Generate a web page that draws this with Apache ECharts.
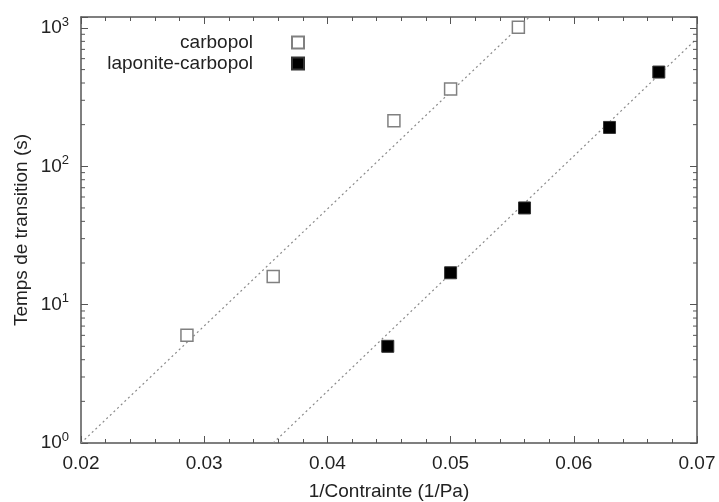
<!DOCTYPE html>
<html>
<head>
<meta charset="utf-8">
<script src="https://cdn.jsdelivr.net/npm/echarts@6/dist/echarts.min.js"></script>
<style>
  html, body { margin: 0; padding: 0; background: #fff; }
  #chart { width: 719px; height: 502px; }
</style>
</head>
<body>
<div id="chart"></div>
<script>
// données
const carbopolX = [0.0286, 0.0356, 0.0454, 0.0500, 0.0555]
const carbopolY = [6.0, 16, 213, 362, 1010]
const laponiteX = [0.0449, 0.0500, 0.0560, 0.0629, 0.0669]
const laponiteY = [5.0, 17, 50, 191, 480]

// droites d'ajustement (extrémités)
const fitCarbopolX = [0.0200, 0.0564]
const fitCarbopolY = [1.0, 1200]
const fitLaponiteX = [0.0356, 0.0700]
const fitLaponiteY = [1.0, 840]

const xTicks = [0.02, 0.03, 0.04, 0.05, 0.06, 0.07]
const yDecades = [1, 10, 100, 1000]

const X_MIN = 0.02, X_MAX = 0.07
const Y_MIN = 1, Y_MAX = 1200

const zip = (xs, ys) => xs.map((x, i) => [x, ys[i]])

// graduations secondaires de l'axe log (2..9 x 10^k)
const minorY = []
yDecades.forEach(d => {
  for (let m = 2; m <= 9; m++) {
    if (d * m < Y_MAX) minorY.push([X_MIN, d * m])
  }
})

const axisColor = '#555'
const textColor = '#222'
const font = 'Liberation Sans, Arial, sans-serif'
const fs = 19

const chart = echarts.init(document.getElementById('chart'))

const openStyle = { color: '#fff', borderColor: '#808080', borderWidth: 1.5, opacity: 1 }
const fullStyle = { color: '#000', borderColor: '#333', borderWidth: 1, opacity: 1 }

chart.setOption({
  animation: false,
  textStyle: { fontFamily: font },
  grid: { left: 81, right: 22, top: 17, bottom: 59, outerBoundsMode: 'none', containLabel: false },
  legend: [
    {
      data: ['carbopol'],
      right: 409,
      top: 28,
      align: 'right',
      itemWidth: 12,
      itemHeight: 12,
      textStyle: { fontSize: fs, color: textColor, padding: [0, 34, 0, 0] },
    },
    {
      data: ['laponite-carbopol'],
      right: 409,
      top: 49,
      align: 'right',
      itemWidth: 12,
      itemHeight: 12,
      textStyle: { fontSize: fs, color: textColor, padding: [0, 34, 0, 0] },
    },
  ],
  xAxis: [
    {
      type: 'value',
      min: X_MIN,
      max: X_MAX,
      interval: 0.01,
      name: '1/Contrainte (1/Pa)',
      nameLocation: 'middle',
      nameGap: 39,
      nameTextStyle: { fontSize: fs, color: textColor },
      axisLine: { onZero: false, lineStyle: { color: axisColor, width: 1.5 } },
      axisTick: { inside: true, length: 7, lineStyle: { color: axisColor } },
      minorTick: { show: true, splitNumber: 5, length: 4, lineStyle: { color: axisColor } },
      axisLabel: {
        fontSize: fs,
        color: textColor,
        margin: 11,
        formatter: v => xTicks.some(t => Math.abs(t - v) < 1e-9) ? v.toFixed(2) : '',
      },
      splitLine: { show: false },
    },
    {
      type: 'value',
      position: 'top',
      min: X_MIN,
      max: X_MAX,
      interval: 0.01,
      axisLine: { onZero: false, lineStyle: { color: axisColor, width: 1.5 } },
      axisTick: { inside: true, length: 7, lineStyle: { color: axisColor } },
      minorTick: { show: true, splitNumber: 5, length: 4, lineStyle: { color: axisColor } },
      axisLabel: { show: false },
      splitLine: { show: false },
    },
  ],
  yAxis: [
    {
      type: 'log',
      logBase: 10,
      min: Y_MIN,
      max: Y_MAX,
      name: 'Temps de transition (s)',
      nameLocation: 'middle',
      nameGap: 50,
      nameMoveOverlap: false,
      nameTextStyle: { fontSize: fs, color: textColor },
      axisLine: { onZero: false, lineStyle: { color: axisColor, width: 1.5 } },
      axisTick: { inside: true, length: 7, lineStyle: { color: axisColor } },
      axisLabel: {
        margin: 12,
        formatter: v => {
          const e = Math.log10(v)
          if (Math.abs(e - Math.round(e)) > 1e-6) return ''
          return '{b|10}{s|' + Math.round(e) + '}'
        },
        rich: {
          b: { fontSize: fs, color: textColor, fontFamily: font },
          s: { fontSize: 13, color: textColor, fontFamily: font, padding: [0, 0, 12, 0] },
        },
      },
      splitLine: { show: false },
    },
    {
      type: 'log',
      logBase: 10,
      position: 'right',
      min: Y_MIN,
      max: Y_MAX,
      axisLine: { onZero: false, lineStyle: { color: axisColor, width: 1.5 } },
      axisTick: { inside: true, length: 7, lineStyle: { color: axisColor } },
      axisLabel: { show: false },
      splitLine: { show: false },
    },
  ],
  series: [
    {
      // graduations mineures gauche et droite
      type: 'custom',
      silent: true,
      clip: false,
      data: minorY,
      renderItem: (params, api) => {
        const v = api.value(1)
        const l = api.coord([X_MIN, v])
        const r = api.coord([X_MAX, v])
        const st = { stroke: axisColor, lineWidth: 1 }
        return {
          type: 'group',
          children: [
            { type: 'line', shape: { x1: l[0], y1: l[1], x2: l[0] + 4, y2: l[1] }, style: st },
            { type: 'line', shape: { x1: r[0], y1: r[1], x2: r[0] - 4, y2: r[1] }, style: st },
          ],
        }
      },
    },
    {
      name: 'fit carbopol',
      type: 'line',
      symbol: 'none',
      silent: true,
      data: zip(fitCarbopolX, fitCarbopolY),
      lineStyle: { color: '#8a8a8a', width: 1.2, type: [2, 3] },
      z: 1,
    },
    {
      name: 'fit laponite',
      type: 'line',
      symbol: 'none',
      silent: true,
      data: zip(fitLaponiteX, fitLaponiteY),
      lineStyle: { color: '#8a8a8a', width: 1.2, type: [2, 3] },
      z: 1,
    },
    {
      name: 'carbopol',
      type: 'scatter',
      symbol: 'rect',
      symbolSize: 12,
      itemStyle: openStyle,
      data: zip(carbopolX, carbopolY),
      z: 3,
    },
    {
      name: 'laponite-carbopol',
      type: 'scatter',
      symbol: 'rect',
      symbolSize: 12,
      itemStyle: fullStyle,
      data: zip(laponiteX, laponiteY),
      z: 3,
    },
  ],
})
</script>
</body>
</html>
